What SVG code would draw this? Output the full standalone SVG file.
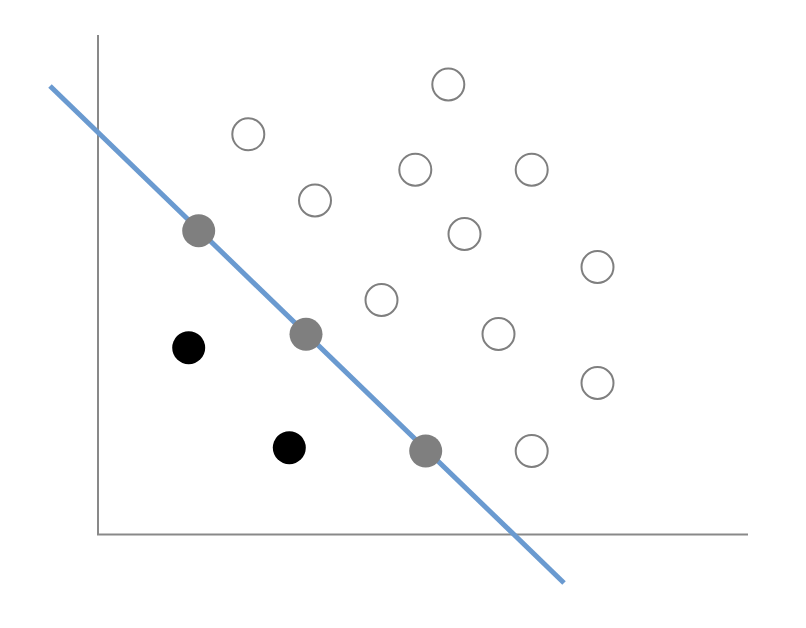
<svg xmlns="http://www.w3.org/2000/svg" width="806" height="628" viewBox="0 0 806 628">
<style>
.axis{stroke:#898989;stroke-width:2;fill:none}
.open{fill:#ffffff;stroke:#7f7f7f;stroke-width:2}
.gray{fill:#7f7f7f}
.black{fill:#000000}
.sep{stroke:#6a9ad0;stroke-width:5;fill:none}
</style>
<rect width="806" height="628" fill="#ffffff"/>
<g id="axes">
<line class="axis" x1="98" y1="35" x2="98" y2="535"/>
<line class="axis" x1="97" y1="534.5" x2="748" y2="534.5"/>
</g>
<g id="open-points">
<circle class="open" cx="448.3" cy="84.5" r="16"/>
<circle class="open" cx="248.3" cy="134.3" r="16"/>
<circle class="open" cx="415.3" cy="169.7" r="16"/>
<circle class="open" cx="531.7" cy="169.7" r="16"/>
<circle class="open" cx="315" cy="200.5" r="16"/>
<circle class="open" cx="464.5" cy="234" r="16"/>
<circle class="open" cx="597.5" cy="267" r="16"/>
<circle class="open" cx="381.5" cy="300" r="16"/>
<circle class="open" cx="498.5" cy="334" r="16"/>
<circle class="open" cx="597.5" cy="383" r="16"/>
<circle class="open" cx="531.7" cy="451" r="16"/>
</g>
<g id="black-points">
<circle class="black" cx="188.7" cy="347.7" r="16.5"/>
<circle class="black" cx="289.3" cy="447.7" r="16.5"/>
</g>
<g id="connectors">
<line class="sep" x1="50" y1="86" x2="564" y2="583"/>
</g>
<g id="support-points">
<circle class="gray" cx="198.7" cy="230.7" r="16.5"/>
<circle class="gray" cx="306" cy="334.3" r="16.5"/>
<circle class="gray" cx="425.7" cy="451" r="16.5"/>
</g>
</svg>
